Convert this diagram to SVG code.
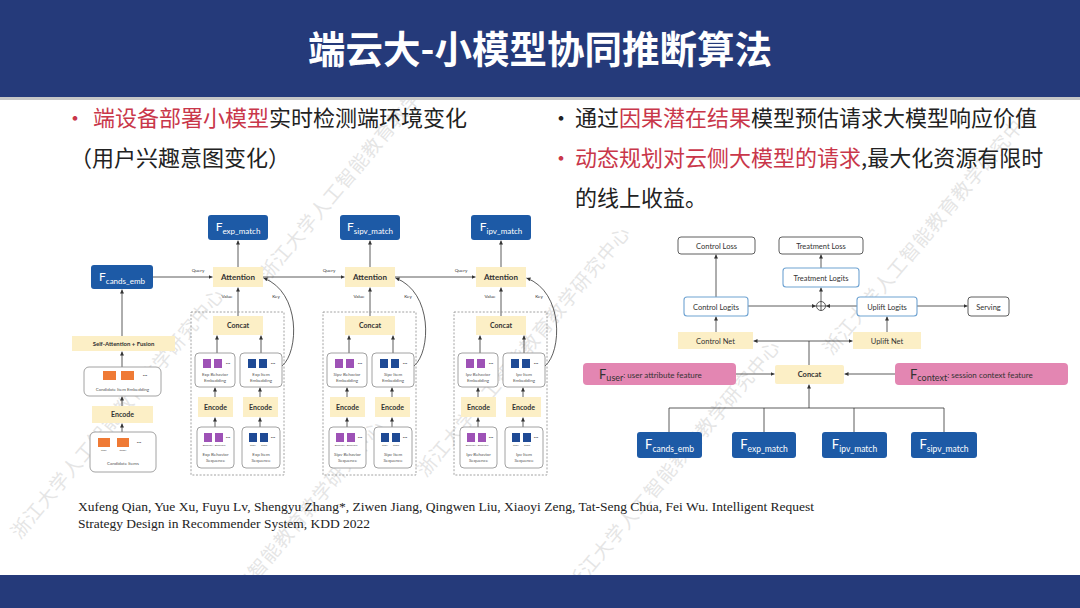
<svg xmlns="http://www.w3.org/2000/svg" xmlns:xlink="http://www.w3.org/1999/xlink" width="1080" height="608" viewBox="0 0 1080 608">
<style>
.cjk{font-family:"Noto Sans CJK SC","Noto Sans",sans-serif;}
.red{fill:#c9374a;}
.blk{fill:#222;}
.lbl{font-family:Lato,"Open Sans",sans-serif;fill:#333;text-anchor:middle;}
.b{font-weight:700;}
.yel{fill:#fcefc6;}
.blue{fill:#1d5aa6;}
.bt{font-family:Lato,"Open Sans",sans-serif;fill:#fff;text-anchor:middle;}
.wbox{fill:#fff;stroke:#8a8a8a;stroke-width:0.8;}
.dbox{fill:#fff;stroke:#4d4d4d;stroke-width:0.9;}
.lbox{fill:#fff;stroke:#6fa3d2;stroke-width:1.1;}
.pink{fill:#e386b2;}
.pur{fill:#9e52b6;}
.nav{fill:#1f4a95;}
.org{fill:#ef7a35;}
.tiny{font-family:Lato,"Open Sans",sans-serif;fill:#555;text-anchor:middle;font-size:4.5px;}
.mic{font-family:Lato,"Open Sans",sans-serif;fill:#444;text-anchor:middle;font-size:2.4px;}
.ln{stroke:#333;stroke-width:0.8;fill:none;}
.arr{stroke:#333;stroke-width:0.8;fill:none;marker-end:url(#ah);}
.dash{fill:none;stroke:#8c8c8c;stroke-width:0.8;stroke-dasharray:2 1.6;}
.wm{font-family:"Noto Sans CJK SC",sans-serif;font-size:19px;fill:#8c8c8c;opacity:0.22;letter-spacing:1px;}
</style>
<defs>
<marker id="ah" viewBox="0 0 6 6" refX="6" refY="3" markerUnits="userSpaceOnUse" markerWidth="4" markerHeight="4" orient="auto"><path d="M0,0 L6,3 L0,6 z" fill="#333"/></marker>
<text id="wmt" class="wm">浙江大学人工智能教育教学研究中心</text>
</defs>

<rect width="1080" height="608" fill="#fff"/>

<!-- watermarks -->
<g id="watermarks">
<use xlink:href="#wmt" transform="translate(20,540) rotate(-50)"/>
<use xlink:href="#wmt" transform="translate(180,672) rotate(-50)"/>
<use xlink:href="#wmt" transform="translate(268,282) rotate(-50)"/>
<use xlink:href="#wmt" transform="translate(426,478) rotate(-50)"/>
<use xlink:href="#wmt" transform="translate(576,592) rotate(-50)"/>
<use xlink:href="#wmt" transform="translate(832,356) rotate(-50)"/>
</g>

<!-- header / footer -->
<rect x="0" y="0" width="1080" height="97" fill="#253a7a"/>
<rect x="0" y="97" width="1080" height="3" fill="#c6c6c6"/>
<rect x="0" y="575" width="1080" height="33" fill="#253a7a"/>
<text x="540" y="63" class="cjk" font-size="37.5" font-weight="700" fill="#fff" text-anchor="middle">端云大-小模型协同推断算法</text>

<!-- bullet text -->
<g id="text-left" class="cjk" font-size="22">
<text x="64" y="126" class="red">•</text>
<text x="93" y="126"><tspan class="red">端设备部署小模型</tspan><tspan class="blk">实时检测端环境变化</tspan></text>
<text x="70" y="166" class="blk">（用户兴趣意图变化）</text>
</g>
<g id="text-right" class="cjk" font-size="22">
<text x="550" y="126" class="blk">•</text>
<text x="575" y="126"><tspan class="blk">通过</tspan><tspan class="red">因果潜在结果</tspan><tspan class="blk">模型预估请求大模型响应价值</tspan></text>
<text x="550" y="166" class="red">•</text>
<text x="575" y="166"><tspan class="red">动态规划对云侧大模型的请求</tspan><tspan class="blk">,最大化资源有限时</tspan></text>
<text x="575" y="206" class="blk">的线上收益。</text>
</g>

<!-- citation -->
<g id="citation" font-family="Liberation Serif,serif" font-size="13.5" fill="#222">
<text x="78" y="511">Xufeng Qian, Yue Xu, Fuyu Lv, Shengyu Zhang*, Ziwen Jiang, Qingwen Liu, Xiaoyi Zeng, Tat-Seng Chua, Fei Wu. Intelligent Request</text>
<text x="78" y="528">Strategy Design in Recommender System, KDD 2022</text>
</g>

<!-- ================= LEFT DIAGRAM ================= -->
<g id="left-connectors">
<path class="arr" d="M153,277 H212.5"/>
<path class="arr" d="M263,277 H344.5"/>
<path class="arr" d="M395,277 H475.5"/>
<path class="arr" d="M122,336 V289.5"/>
<path class="arr" d="M122,367 V351.5"/>
<path class="arr" d="M122,406 V396.5"/>
<path class="arr" d="M122,432 V423.5"/>
<g id="conn-g1">
<path class="arr" d="M238,267 V240.5"/>
<path class="arr" d="M238,316 V287.5"/>
<path class="arr" d="M217,353 V335.5"/>
<path class="arr" d="M261,353 V335.5"/>
<path class="arr" d="M215,397 V387.5"/>
<path class="arr" d="M260,397 V387.5"/>
<path class="arr" d="M215,427 V417.5"/>
<path class="arr" d="M260,427 V417.5"/>
<path class="arr" d="M282,366 C299,352 301,292 263.5,278"/>
</g>
<use xlink:href="#conn-g1" transform="translate(132,0)"/>
<use xlink:href="#conn-g1" transform="translate(263,0)"/>
</g>
<g class="lbl" font-size="4.6">
<text x="198" y="272">Query</text>
<text x="329" y="272">Query</text>
<text x="461" y="272">Query</text>
</g>

<g id="n-cands-emb"><rect x="91" y="265" width="62" height="24" rx="3" class="blue"/><text x="122" y="281" class="bt" font-size="12">F<tspan font-size="8" dy="2.5">cands_emb</tspan></text></g>
<g id="n-selfatt"><rect x="72" y="336" width="103" height="15" class="yel"/><text x="123.5" y="346" class="lbl b" font-size="6">Self-Attention + Fusion</text></g>
<g id="n-cand-item-emb"><rect x="84" y="367" width="77" height="29" rx="5" class="wbox"/>
<rect x="103" y="371" width="13" height="9" class="org"/><rect x="121" y="371" width="13" height="9" class="org"/>
<text x="145" y="377" class="lbl" font-size="6">···</text>
<text x="122.5" y="391" class="tiny">Candidate Item Embedding</text></g>
<g id="n-cand-encode"><rect x="92" y="406" width="61" height="17" class="yel"/><text x="122.5" y="417" class="lbl b" font-size="7">Encode</text></g>
<g id="n-cand-items"><rect x="90" y="432" width="66" height="40" rx="5" class="wbox"/>
<rect x="98" y="438" width="12" height="9" class="org"/><rect x="117" y="438" width="12" height="9" class="org"/>
<text x="139" y="444" class="lbl" font-size="6">···</text>
<text x="104" y="451" class="mic">item1</text><text x="123" y="451" class="mic">item2*</text>
<text x="123" y="465" class="tiny">Candidate Items</text></g>

<!-- group 1 exp -->
<g id="grp-exp">
<rect x="191" y="312" width="93" height="163" class="dash"/>
<g id="n-exp-match"><rect x="208" y="215" width="60" height="25" rx="3" class="blue"/><text x="238" y="231" class="bt" font-size="12">F<tspan font-size="8" dy="2.5">exp_match</tspan></text></g>
<g id="n-exp-attn"><rect x="213" y="267" width="50" height="20" class="yel"/><text x="238" y="280" class="lbl b" font-size="8">Attention</text></g>
<text x="227" y="298" class="lbl" font-size="4.6">Value</text><text x="276" y="298" class="lbl" font-size="4.6">Key</text>
<g id="n-exp-concat"><rect x="213" y="316" width="50" height="19" class="yel"/><text x="238" y="328" class="lbl b" font-size="7">Concat</text></g>
<g id="n-exp-bemb"><rect x="195" y="353" width="40" height="34" rx="4" class="wbox"/>
<rect x="203" y="359" width="8" height="9" class="pur"/><rect x="214" y="359" width="8" height="9" class="pur"/><text x="228" y="365" class="lbl" font-size="6">···</text>
<text x="215" y="376" class="tiny">Exp Behavior</text><text x="215" y="382" class="tiny">Embedding</text></g>
<g id="n-exp-iemb"><rect x="240" y="353" width="42" height="34" rx="4" class="wbox"/>
<rect x="248" y="359" width="8" height="9" class="nav"/><rect x="259" y="359" width="8" height="9" class="nav"/><text x="273" y="365" class="lbl" font-size="6">···</text>
<text x="261" y="376" class="tiny">Exp Item</text><text x="261" y="382" class="tiny">Embedding</text></g>
<g id="n-exp-benc"><rect x="198" y="397" width="35" height="20" class="yel"/><text x="215.5" y="409.5" class="lbl b" font-size="7">Encode</text></g>
<g id="n-exp-ienc"><rect x="243" y="397" width="35" height="20" class="yel"/><text x="260.5" y="409.5" class="lbl b" font-size="7">Encode</text></g>
<g id="n-exp-bseq"><rect x="197" y="427" width="37" height="41" rx="4" class="wbox"/>
<rect x="204" y="433" width="8" height="9" class="pur"/><rect x="215" y="433" width="8" height="9" class="pur"/><text x="228" y="439" class="lbl" font-size="6">···</text>
<text x="208" y="446" class="mic">Behavior1</text><text x="220" y="446" class="mic">Behavior2</text>
<text x="215.5" y="456" class="tiny">Exp Behavior</text><text x="215.5" y="462" class="tiny">Sequence</text></g>
<g id="n-exp-iseq"><rect x="242" y="427" width="38" height="41" rx="4" class="wbox"/>
<rect x="249" y="433" width="8" height="9" class="nav"/><rect x="260" y="433" width="8" height="9" class="nav"/><text x="273" y="439" class="lbl" font-size="6">···</text>
<text x="253" y="446" class="mic">Item1</text><text x="264" y="446" class="mic">Item2</text>
<text x="261" y="456" class="tiny">Exp Item</text><text x="261" y="462" class="tiny">Sequence</text></g>
</g>

<!-- group 2 sipv -->
<g id="grp-sipv" transform="translate(132,0)">
<rect x="191" y="312" width="93" height="163" class="dash"/>
<g id="n-sipv-match"><rect x="208" y="215" width="60" height="25" rx="3" class="blue"/><text x="238" y="231" class="bt" font-size="12">F<tspan font-size="8" dy="2.5">sipv_match</tspan></text></g>
<g id="n-sipv-attn"><rect x="213" y="267" width="50" height="20" class="yel"/><text x="238" y="280" class="lbl b" font-size="8">Attention</text></g>
<text x="227" y="298" class="lbl" font-size="4.6">Value</text><text x="276" y="298" class="lbl" font-size="4.6">Key</text>
<g id="n-sipv-concat"><rect x="213" y="316" width="50" height="19" class="yel"/><text x="238" y="328" class="lbl b" font-size="7">Concat</text></g>
<g id="n-sipv-bemb"><rect x="195" y="353" width="40" height="34" rx="4" class="wbox"/>
<rect x="203" y="359" width="8" height="9" class="pur"/><rect x="214" y="359" width="8" height="9" class="pur"/><text x="228" y="365" class="lbl" font-size="6">···</text>
<text x="215" y="376" class="tiny">Sipv Behavior</text><text x="215" y="382" class="tiny">Embedding</text></g>
<g id="n-sipv-iemb"><rect x="240" y="353" width="42" height="34" rx="4" class="wbox"/>
<rect x="248" y="359" width="8" height="9" class="nav"/><rect x="259" y="359" width="8" height="9" class="nav"/><text x="273" y="365" class="lbl" font-size="6">···</text>
<text x="261" y="376" class="tiny">Sipv Item</text><text x="261" y="382" class="tiny">Embedding</text></g>
<g id="n-sipv-benc"><rect x="198" y="397" width="35" height="20" class="yel"/><text x="215.5" y="409.5" class="lbl b" font-size="7">Encode</text></g>
<g id="n-sipv-ienc"><rect x="243" y="397" width="35" height="20" class="yel"/><text x="260.5" y="409.5" class="lbl b" font-size="7">Encode</text></g>
<g id="n-sipv-bseq"><rect x="197" y="427" width="37" height="41" rx="4" class="wbox"/>
<rect x="204" y="433" width="8" height="9" class="pur"/><rect x="215" y="433" width="8" height="9" class="pur"/><text x="228" y="439" class="lbl" font-size="6">···</text>
<text x="208" y="446" class="mic">Behavior1</text><text x="220" y="446" class="mic">Behavior2</text>
<text x="215.5" y="456" class="tiny">Sipv Behavior</text><text x="215.5" y="462" class="tiny">Sequence</text></g>
<g id="n-sipv-iseq"><rect x="242" y="427" width="38" height="41" rx="4" class="wbox"/>
<rect x="249" y="433" width="8" height="9" class="nav"/><rect x="260" y="433" width="8" height="9" class="nav"/><text x="273" y="439" class="lbl" font-size="6">···</text>
<text x="253" y="446" class="mic">Item1</text><text x="264" y="446" class="mic">Item2</text>
<text x="261" y="456" class="tiny">Sipv Item</text><text x="261" y="462" class="tiny">Sequence</text></g>
</g>

<!-- group 3 ipv -->
<g id="grp-ipv" transform="translate(263,0)">
<rect x="191" y="312" width="93" height="163" class="dash"/>
<g id="n-ipv-match"><rect x="208" y="215" width="60" height="25" rx="3" class="blue"/><text x="238" y="231" class="bt" font-size="12">F<tspan font-size="8" dy="2.5">ipv_match</tspan></text></g>
<g id="n-ipv-attn"><rect x="213" y="267" width="50" height="20" class="yel"/><text x="238" y="280" class="lbl b" font-size="8">Attention</text></g>
<text x="227" y="298" class="lbl" font-size="4.6">Value</text><text x="276" y="298" class="lbl" font-size="4.6">Key</text>
<g id="n-ipv-concat"><rect x="213" y="316" width="50" height="19" class="yel"/><text x="238" y="328" class="lbl b" font-size="7">Concat</text></g>
<g id="n-ipv-bemb"><rect x="195" y="353" width="40" height="34" rx="4" class="wbox"/>
<rect x="203" y="359" width="8" height="9" class="pur"/><rect x="214" y="359" width="8" height="9" class="pur"/><text x="228" y="365" class="lbl" font-size="6">···</text>
<text x="215" y="376" class="tiny">Ipv Behavior</text><text x="215" y="382" class="tiny">Embedding</text></g>
<g id="n-ipv-iemb"><rect x="240" y="353" width="42" height="34" rx="4" class="wbox"/>
<rect x="248" y="359" width="8" height="9" class="nav"/><rect x="259" y="359" width="8" height="9" class="nav"/><text x="273" y="365" class="lbl" font-size="6">···</text>
<text x="261" y="376" class="tiny">Ipv Item</text><text x="261" y="382" class="tiny">Embedding</text></g>
<g id="n-ipv-benc"><rect x="198" y="397" width="35" height="20" class="yel"/><text x="215.5" y="409.5" class="lbl b" font-size="7">Encode</text></g>
<g id="n-ipv-ienc"><rect x="243" y="397" width="35" height="20" class="yel"/><text x="260.5" y="409.5" class="lbl b" font-size="7">Encode</text></g>
<g id="n-ipv-bseq"><rect x="197" y="427" width="37" height="41" rx="4" class="wbox"/>
<rect x="204" y="433" width="8" height="9" class="pur"/><rect x="215" y="433" width="8" height="9" class="pur"/><text x="228" y="439" class="lbl" font-size="6">···</text>
<text x="208" y="446" class="mic">Behavior1</text><text x="220" y="446" class="mic">Behavior2</text>
<text x="215.5" y="456" class="tiny">Ipv Behavior</text><text x="215.5" y="462" class="tiny">Sequence</text></g>
<g id="n-ipv-iseq"><rect x="242" y="427" width="38" height="41" rx="4" class="wbox"/>
<rect x="249" y="433" width="8" height="9" class="nav"/><rect x="260" y="433" width="8" height="9" class="nav"/><text x="273" y="439" class="lbl" font-size="6">···</text>
<text x="253" y="446" class="mic">Item1</text><text x="264" y="446" class="mic">Item2</text>
<text x="261" y="456" class="tiny">Ipv Item</text><text x="261" y="462" class="tiny">Sequence</text></g>
</g>

<!-- ================= RIGHT DIAGRAM ================= -->
<g id="right-connectors">
<path class="arr" d="M716,297 V254.5"/>
<path class="arr" d="M821,268 V254.5"/>
<path class="arr" d="M821,301.5 V287.5"/>
<path class="arr" d="M748,306 H816"/>
<path class="arr" d="M857,306 H826"/>
<path class="arr" d="M917,306 H967.5"/>
<path class="arr" d="M716,332 V316.5"/>
<path class="arr" d="M887,332 V316.5"/>
<path class="ln" d="M809,365 V341"/>
<path class="arr" d="M809,341 H753.5"/>
<path class="arr" d="M809,341 H852.5"/>
<path class="arr" d="M736,374 H774.5"/>
<path class="arr" d="M895,374 H844.5"/>
<path class="ln" d="M669,432 V408 H944 V432 M764,408 V432 M854,408 V432"/>
<path class="arr" d="M809,408 V384.5"/>
</g>

<g id="n-control-loss"><rect x="678" y="237" width="77" height="17" rx="3" class="dbox"/><text x="716.5" y="248.5" class="lbl" font-size="7.5">Control Loss</text></g>
<g id="n-treat-loss"><rect x="779" y="237" width="84" height="17" rx="3" class="dbox"/><text x="821" y="248.5" class="lbl" font-size="7.5">Treatment Loss</text></g>
<g id="n-treat-logits"><rect x="783" y="268" width="76" height="19" rx="3" class="lbox"/><text x="821" y="280.5" class="lbl" font-size="7.5">Treatment Logits</text></g>
<g id="n-control-logits"><rect x="684" y="297" width="64" height="19" rx="3" class="lbox"/><text x="716" y="309.5" class="lbl" font-size="7.5">Control Logits</text></g>
<g id="n-plus"><circle cx="821" cy="306" r="4.5" fill="#fff" stroke="#333" stroke-width="0.8"/><path d="M816.5,306 H825.5 M821,301.5 V310.5" stroke="#333" stroke-width="0.8"/></g>
<g id="n-uplift-logits"><rect x="857" y="297" width="60" height="19" rx="3" class="lbox"/><text x="887" y="309.5" class="lbl" font-size="7.5">Uplift Logits</text></g>
<g id="n-serving"><rect x="968" y="297" width="41" height="19" rx="3" class="dbox"/><text x="988.5" y="309.5" class="lbl" font-size="7.5">Serving</text></g>
<g id="n-control-net"><rect x="678" y="332" width="75" height="17" class="yel"/><text x="715.5" y="343.5" class="lbl" font-size="7.5">Control Net</text></g>
<g id="n-uplift-net"><rect x="853" y="332" width="68" height="17" class="yel"/><text x="887" y="343.5" class="lbl" font-size="7.5">Uplift Net</text></g>
<g id="n-r-concat"><rect x="775" y="365" width="69" height="19" rx="2" class="yel"/><text x="809.5" y="377" class="lbl b" font-size="7.5">Concat</text></g>
<g id="n-fuser"><rect x="583" y="363" width="153" height="22" rx="4" class="pink"/><text x="599" y="379" font-family="Lato,Open Sans,sans-serif" fill="#333" font-size="13">F<tspan font-size="9" dy="2">user</tspan><tspan font-size="8" dy="-3">: user attribute feature</tspan></text></g>
<g id="n-fcontext"><rect x="895" y="363" width="173" height="22" rx="4" class="pink"/><text x="910" y="379" font-family="Lato,Open Sans,sans-serif" fill="#333" font-size="13">F<tspan font-size="9" dy="2">context</tspan><tspan font-size="8" dy="-3">: session context feature</tspan></text></g>
<g id="n-r-cands"><rect x="637" y="432" width="65" height="26" rx="3" class="blue"/><text x="669.5" y="449" class="bt" font-size="13">F<tspan font-size="8.5" dy="2.5">cands_emb</tspan></text></g>
<g id="n-r-exp"><rect x="732" y="432" width="64" height="26" rx="3" class="blue"/><text x="764" y="449" class="bt" font-size="13">F<tspan font-size="8.5" dy="2.5">exp_match</tspan></text></g>
<g id="n-r-ipv"><rect x="822" y="432" width="65" height="26" rx="3" class="blue"/><text x="854.5" y="449" class="bt" font-size="13">F<tspan font-size="8.5" dy="2.5">ipv_match</tspan></text></g>
<g id="n-r-sipv"><rect x="911" y="432" width="66" height="26" rx="3" class="blue"/><text x="944" y="449" class="bt" font-size="13">F<tspan font-size="8.5" dy="2.5">sipv_match</tspan></text></g>
</svg>
